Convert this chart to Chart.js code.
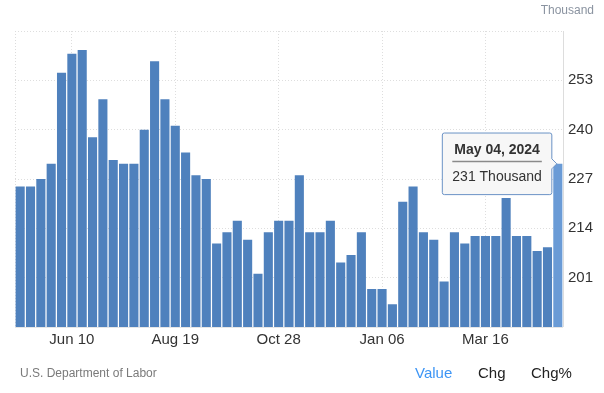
<!DOCTYPE html>
<html>
<head>
<meta charset="utf-8">
<script src="https://cdn.jsdelivr.net/npm/chart.js@4"></script>
<style>
  html, body { margin:0; padding:0; background:#fff; }
  #wrap { position:relative; width:604px; height:393px; font-family:"Liberation Sans", Arial, sans-serif; }
  #c { position:absolute; left:0; top:0; }
  .t { position:absolute; white-space:nowrap; line-height:1; }
</style>
</head>
<body>
<div id="wrap">
  <canvas id="c" width="604" height="393"></canvas>
  <div class="t" style="right:10px; top:4px; font-size:12px; color:#8a93a0;">Thousand</div>
  <div class="t" style="left:20px; top:367px; font-size:12px; color:#7a7a7a;">U.S. Department of Labor</div>
  <div class="t" style="left:415px; top:365px; font-size:15px; color:#3d95f5;">Value</div>
  <div class="t" style="left:478px; top:365px; font-size:15px; color:#222;">Chg</div>
  <div class="t" style="left:531px; top:365px; font-size:15px; color:#222;">Chg%</div>
</div>
<script>
const weeks = [
  "May 06, 2023","May 13, 2023","May 20, 2023","May 27, 2023",
  "Jun 03, 2023","Jun 10, 2023","Jun 17, 2023","Jun 24, 2023",
  "Jul 01, 2023","Jul 08, 2023","Jul 15, 2023","Jul 22, 2023","Jul 29, 2023",
  "Aug 05, 2023","Aug 12, 2023","Aug 19, 2023","Aug 26, 2023",
  "Sep 02, 2023","Sep 09, 2023","Sep 16, 2023","Sep 23, 2023","Sep 30, 2023",
  "Oct 07, 2023","Oct 14, 2023","Oct 21, 2023","Oct 28, 2023",
  "Nov 04, 2023","Nov 11, 2023","Nov 18, 2023","Nov 25, 2023",
  "Dec 02, 2023","Dec 09, 2023","Dec 16, 2023","Dec 23, 2023","Dec 30, 2023",
  "Jan 06, 2024","Jan 13, 2024","Jan 20, 2024","Jan 27, 2024",
  "Feb 03, 2024","Feb 10, 2024","Feb 17, 2024","Feb 24, 2024",
  "Mar 02, 2024","Mar 09, 2024","Mar 16, 2024","Mar 23, 2024","Mar 30, 2024",
  "Apr 06, 2024","Apr 13, 2024","Apr 20, 2024","Apr 27, 2024",
  "May 04, 2024"
];
const claims = [
  225,225,227,231,255,260,261,238,248,232,
  231,231,240,258,248,241,234,228,227,210,
  213,216,211,202,213,216,216,228,213,213,
  216,205,207,213,198,198,194,221,225,213,
  211,200,213,210,212,212,212,222,212,212,
  208,209,231
];
const shownTickLabels = ["Jun 10","Aug 19","Oct 28","Jan 06","Mar 16"];
const yTicks = [201,214,227,240,253];
const yMin = 188, yMax = 266, yStep = 13;

const barColor = '#4f81bd';
const activeColor = '#6a9bd6';
const lastIdx = claims.length - 1;
const FONT = '"Liberation Sans", Arial, sans-serif';

function shortLabel(i){ return weeks[i].slice(0,6); }
function isShown(i){ return shownTickLabels.includes(shortLabel(i)); }

const edgePlugin = {
  id:'edge',
  beforeDatasetsDraw(chart){
    const a = chart.chartArea, ctx = chart.ctx;
    ctx.save();
    ctx.strokeStyle = '#dcdcdc';
    ctx.lineWidth = 1;
    ctx.setLineDash([1,2]);
    ctx.beginPath();
    ctx.moveTo(Math.round(a.left)+0.5, a.top);
    ctx.lineTo(Math.round(a.left)+0.5, a.bottom);
    ctx.stroke();
    ctx.setLineDash([]);
    ctx.strokeStyle = '#dddddd';
    ctx.beginPath();
    ctx.moveTo(Math.round(a.right)+0.5, a.top);
    ctx.lineTo(Math.round(a.right)+0.5, a.bottom);
    ctx.stroke();
    ctx.strokeStyle = '#e6e6e6';
    ctx.beginPath();
    ctx.moveTo(a.left, Math.round(a.bottom)+0.5);
    ctx.lineTo(a.right, Math.round(a.bottom)+0.5);
    ctx.stroke();
    ctx.restore();
  },
  afterTooltipDraw(chart, args){
    const tt = args.tooltip;
    if (!tt || !tt.opacity) return;
    const ctx = chart.ctx;
    const pad = 10, padTop = 9;
    const lh = 14*1.2;
    const y = Math.round(tt.y + padTop + lh + 2) + 0.5;
    ctx.save();
    ctx.strokeStyle = '#8a8a8a';
    ctx.lineWidth = 1.5;
    ctx.beginPath();
    ctx.moveTo(tt.x + pad, y);
    ctx.lineTo(tt.x + tt.width - pad, y);
    ctx.stroke();
    ctx.restore();
  }
};

const chart = new Chart(document.getElementById('c'), {
  type:'bar',
  data:{
    labels: weeks,
    datasets:[{
      data: claims,
      backgroundColor: claims.map((v,i)=> i===lastIdx ? activeColor : barColor),
      hoverBackgroundColor: activeColor,
      borderWidth:0,
      barPercentage:0.88,
      categoryPercentage:1.0
    }]
  },
  plugins:[edgePlugin],
  options:{
    responsive:false,
    animation:false,
    events:[],
    layout:{ padding:{ left:15, top:31, right:0, bottom:0 } },
    plugins:{
      legend:{ display:false },
      tooltip:{
        enabled:true,
        xAlign:'right',
        yAlign:'center',
        backgroundColor:'rgba(247,247,247,0.97)',
        borderColor:'#6b93c6',
        borderWidth:1,
        cornerRadius:2,
        caretSize:5,
        caretPadding:1,
        displayColors:false,
        padding:{ top:9, bottom:9, left:10, right:10 },
        titleColor:'#333',
        bodyColor:'#333',
        titleFont:{ family:FONT, size:14, weight:'bold' },
        bodyFont:{ family:FONT, size:14 },
        titleMarginBottom:10,
        titleAlign:'center',
        bodyAlign:'center',
        callbacks:{
          title: items => weeks[items[0].dataIndex],
          label: ctx => ctx.parsed.y + ' Thousand'
        }
      }
    },
    scales:{
      x:{
        offset:true,
        grid:{
          offset:false,
          drawTicks:false,
          color: ctx => (ctx.index !== undefined && isShown(ctx.index)) ? '#dedede' : 'rgba(0,0,0,0)',
          lineWidth:1
        },
        border:{ display:false, dash:[1,2] },
        ticks:{
          autoSkip:false,
          maxRotation:0,
          padding:4,
          color:'#333',
          font:{ family:FONT, size:15 },
          callback: (v,i) => isShown(i) ? shortLabel(i) : ''
        },
        afterFit(s){ s.height = 66; }
      },
      y:{
        position:'right',
        min:yMin, max:yMax,
        grid:{ drawTicks:false, color:'#dedede' },
        border:{ display:false, dash:[1,2] },
        ticks:{
          stepSize:yStep,
          padding:5,
          color:'#333',
          font:{ family:FONT, size:15 },
          callback: v => yTicks.includes(v) ? String(v) : ''
        },
        afterFit(s){ s.width = 41; }
      }
    }
  }
});

chart.tooltip.setActiveElements([{datasetIndex:0, index:lastIdx}], {x:0, y:0});
chart.update();
</script>
</body>
</html>
